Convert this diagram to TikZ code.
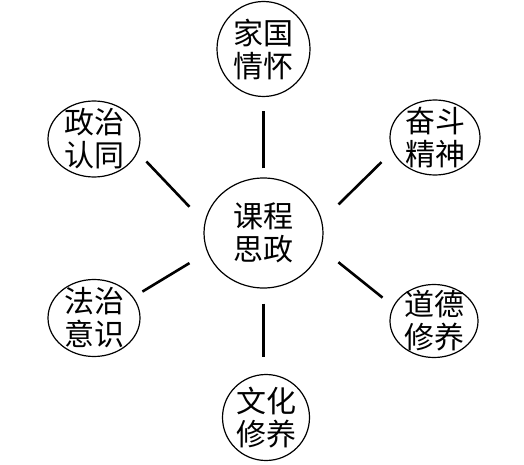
\documentclass[tikz,border=0pt]{standalone}
\usepackage{fontspec}
\newfontfamily\cjk{Noto Sans CJK SC}
\usetikzlibrary{shapes.geometric}
\tikzset{
  topic/.style={draw, ellipse, line width=1.2pt, inner xsep=0pt, inner ysep=-10pt,
    align=center, font=\cjk\fontsize{30}{33}\selectfont},
  link/.style={line width=2.6pt}
}
\begin{document}
\begin{tikzpicture}[x=1pt,y=1pt]
\useasboundingbox (0,0) rectangle (524,464);

% centre
\node[topic, minimum width=119pt, minimum height=110pt] (kcsz) at (263.5,231) {课程\\思政};

% outer topics
\node[topic, minimum width=93pt, minimum height=95pt] (jgqh) at (263.5,415) {家国\\情怀};
\node[topic, minimum width=90pt, minimum height=75pt] (fdjs) at (435,326.5) {奋斗\\精神};
\node[topic, minimum width=88pt, minimum height=73pt] (ddxy) at (434,143) {道德\\修养};
\node[topic, minimum width=87pt, minimum height=86pt] (whxy) at (266,46.5) {文化\\修养};
\node[topic, minimum width=92pt, minimum height=77pt] (fzys) at (94,146) {法治\\意识};
\node[topic, minimum width=92pt, minimum height=76pt] (zzrt) at (94,325) {政治\\认同};

% links
\draw[link, shorten <=9pt, shorten >=13.5pt] (kcsz.90) -- (jgqh.-90);
\draw[link, shorten <=23pt, shorten >=15.5pt] (kcsz.12) -- (fdjs.198);
\draw[link, shorten <=22pt, shorten >=13.6pt] (kcsz.-15) -- (ddxy.160);
\draw[link, shorten <=15pt, shorten >=16.5pt] (kcsz.south) -- (kcsz.south |- whxy.north);
\draw[link, shorten <=20.7pt, shorten >=10.6pt] (kcsz.199) -- (fzys.28);
\draw[link, shorten <=21.8pt, shorten >=12.6pt] (kcsz.170) -- (zzrt.-17);
\end{tikzpicture}
\end{document}
